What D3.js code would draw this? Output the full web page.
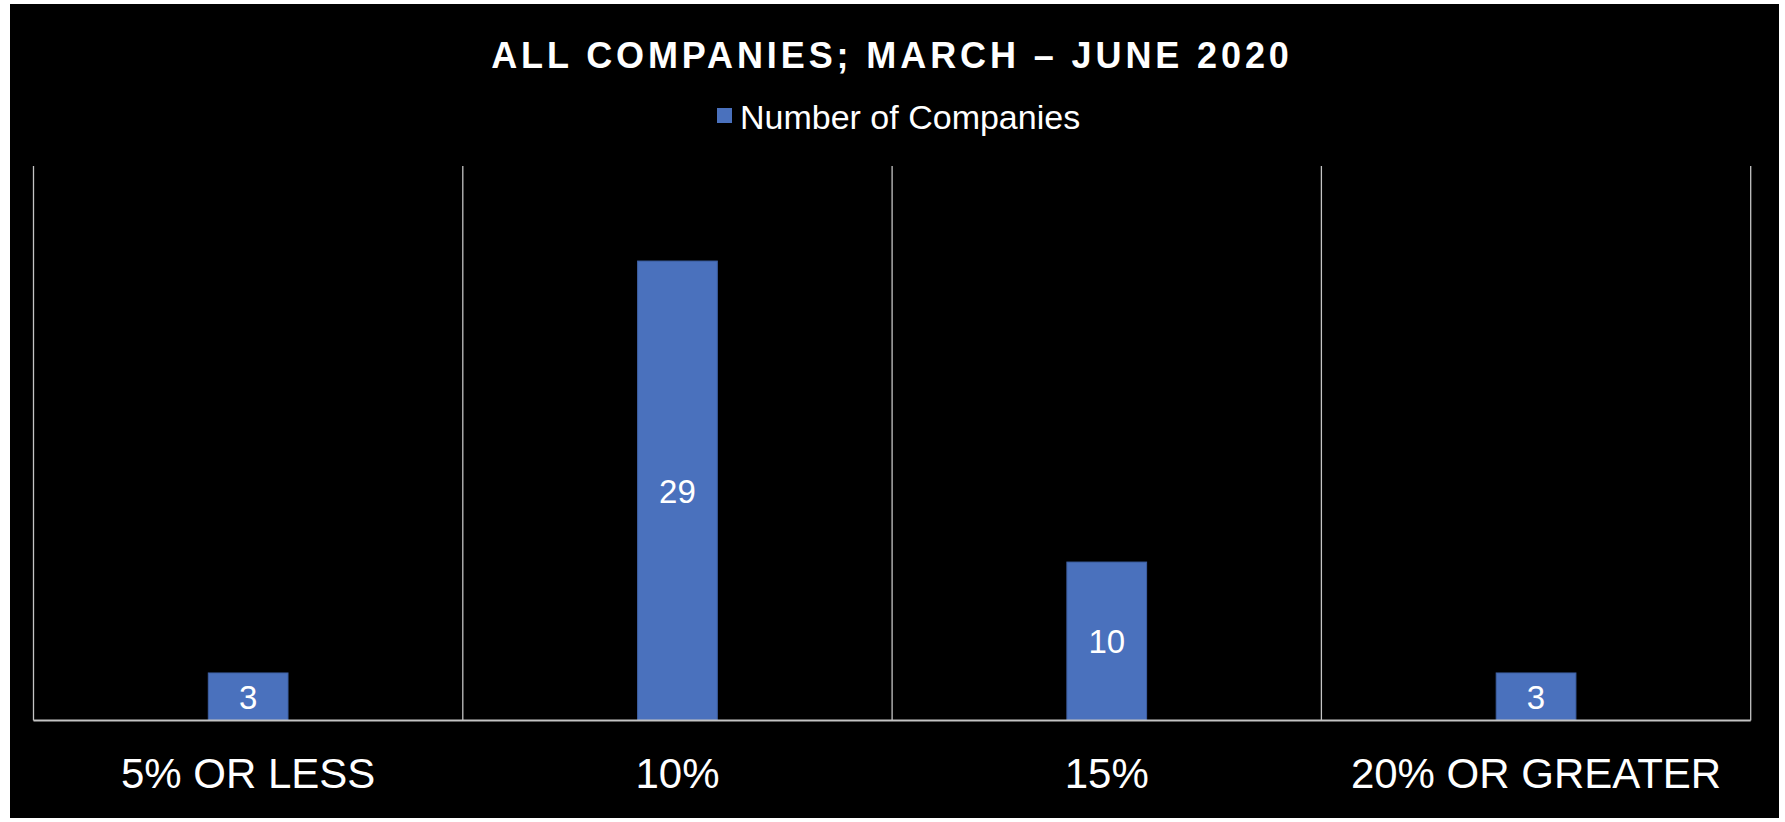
<!DOCTYPE html>
<html>
<head>
<meta charset="utf-8">
<script src="https://cdn.jsdelivr.net/npm/d3@7"></script>
<style>
  html, body { margin: 0; padding: 0; background: #ffffff; }
  svg { display: block; }
  text { font-family: "Liberation Sans", Arial, Helvetica, sans-serif; }
</style>
</head>
<body>
<svg id="chart" width="1785" height="822"></svg>
<script>
const titleText = "ALL COMPANIES; MARCH \u2013 JUNE 2020";
const seriesName = "Number of Companies";
const categories = ["5% OR LESS", "10%", "15%", "20% OR GREATER"];
const values = [3, 29, 10, 3];
const yDomain = [0, 35];

const W = 1785, H = 822;
const svg = d3.select("#chart");

// black panel with thin white frame
svg.append("rect").attr("x", 10).attr("y", 4).attr("width", 1769).attr("height", 814).attr("fill", "#000");

const plot = { left: 33.5, right: 1750.7, top: 166, bottom: 720.5 };

const x = d3.scaleBand()
  .domain(categories)
  .range([plot.left, plot.right])
  .paddingInner(0.8143)
  .paddingOuter(0.8143 / 2);

const y = d3.scaleLinear().domain(yDomain).range([plot.bottom, plot.top]);

// vertical category separators
const step = x.step();
const bounds = d3.range(categories.length + 1).map(i => plot.left + i * step);
svg.append("g").selectAll("line").data(bounds).join("line")
  .attr("x1", d => d).attr("x2", d => d)
  .attr("y1", plot.top).attr("y2", plot.bottom)
  .attr("stroke", "#c4c4c4").attr("stroke-width", 1.3);

// bars
const bars = svg.append("g");
bars.selectAll("rect").data(values).join("rect")
  .attr("x", (d, i) => x(categories[i]))
  .attr("width", x.bandwidth())
  .attr("y", d => y(d))
  .attr("height", d => y(0) - y(d))
  .attr("fill", "#4a71bd")
  .attr("stroke", "#3e60a3")
  .attr("stroke-width", 1);

// value labels centered in bars
bars.selectAll("text").data(values).join("text")
  .attr("x", (d, i) => x(categories[i]) + x.bandwidth() / 2)
  .attr("y", d => (y(d) + y(0)) / 2)
  .attr("dy", "0.36em")
  .attr("text-anchor", "middle")
  .attr("fill", "#fff")
  .attr("font-size", 33)
  .text(d => d);

// baseline axis
const xAxis = d3.axisBottom(x).tickSize(0).tickPadding(0);
const gx = svg.append("g").attr("transform", `translate(0,${plot.bottom})`).call(xAxis);
gx.select(".domain").attr("stroke", "#c4c4c4").attr("stroke-width", 2)
  .attr("d", `M${plot.left},0H${plot.right}`);
gx.selectAll(".tick text")
  .attr("fill", "#fff")
  .attr("font-size", 42)
  .attr("font-family", "'Liberation Sans', Arial, sans-serif")
  .attr("dy", null)
  .attr("y", 67.5);

// title
svg.append("text")
  .attr("x", 892).attr("y", 68)
  .attr("text-anchor", "middle")
  .attr("fill", "#fff")
  .attr("font-size", 36)
  .attr("font-weight", "bold")
  .attr("letter-spacing", 3.9)
  .text(titleText);

// legend
svg.append("rect").attr("x", 717).attr("y", 108).attr("width", 15).attr("height", 15).attr("fill", "#4a71bd");
svg.append("text")
  .attr("x", 740).attr("y", 128.5)
  .attr("fill", "#fff")
  .attr("font-size", 34)
  .text(seriesName);
</script>
</body>
</html>
